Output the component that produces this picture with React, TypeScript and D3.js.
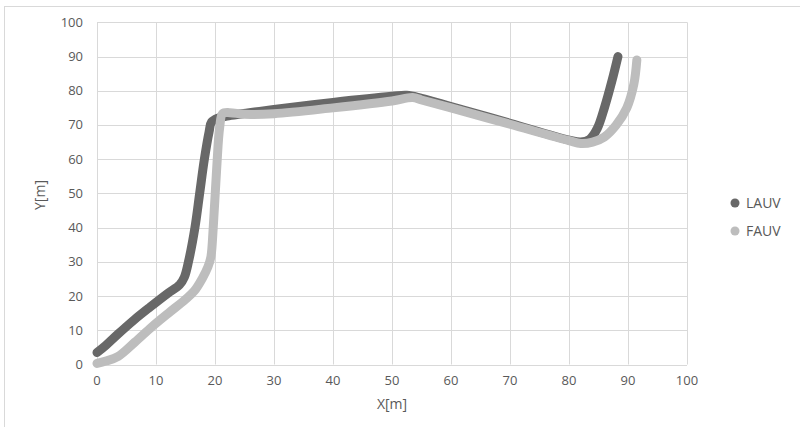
import React from "react";
import * as d3 from "d3";

const xTicks = [0, 10, 20, 30, 40, 50, 60, 70, 80, 90, 100];
const yTicks = [0, 10, 20, 30, 40, 50, 60, 70, 80, 90, 100];

const lauvX = [0, 1.5, 3.5, 6.4, 9, 12, 14, 14.8, 15.5, 16.6, 17.4, 18.2, 19, 19.4, 20.5, 22, 30, 40, 50, 52.5, 55, 60, 70, 80, 82, 83.5, 84.8, 86, 87.3, 88.3];
const lauvY = [3.5, 5.6, 8.8, 13.2, 16.8, 20.8, 23.3, 25.5, 30, 40, 50, 60, 68, 70.8, 72, 72.6, 74.5, 76.6, 78.4, 78.7, 77.8, 75.4, 70.5, 65.6, 65, 65.8, 69, 75, 83, 90];

const fauvX = [0, 1.5, 3.6, 6.4, 9.3, 12.1, 14.9, 16.5, 17.8, 18.8, 19.3, 19.7, 20.3, 20.8, 21.3, 22.5, 25, 30, 40, 50, 53.5, 55, 60, 70, 80, 82, 84, 86, 88, 89.8, 91, 91.5];
const fauvY = [0.3, 1, 2.4, 6.5, 11, 15, 18.9, 21.5, 25, 28.5, 31.4, 40, 57.7, 69.4, 73.3, 73.6, 73.1, 73.3, 75, 77, 78, 77.3, 75, 70.2, 65.4, 64.6, 65, 66.5, 70, 75, 82, 89];

const seriesNames = ["LAUV", "FAUV"];
const seriesColors = ["#686868", "#bdbdbd"];

export default function App() {
  const x = d3.scaleLinear().domain([0, 100]).range([97, 687]);
  const y = d3.scaleLinear().domain([0, 100]).range([364.5, 22.3]);
  const line = d3
    .line<[number, number]>()
    .x((d) => x(d[0]))
    .y((d) => y(d[1]))
    .curve(d3.curveCatmullRom.alpha(0.5));
  const lauv: [number, number][] = lauvX.map((v, i) => [v, lauvY[i]]);
  const fauv: [number, number][] = fauvX.map((v, i) => [v, fauvY[i]]);
  const font = "'Open Sans', 'Liberation Sans', sans-serif";
  const textColor = "#595959";
  return (
    <svg
      width={800}
      height={427}
      style={{ position: "absolute", left: 0, top: 0, background: "#fff" }}
      fontFamily={font}
    >
      <rect x={0} y={0} width={800} height={427} fill="#fff" />
      <rect x={4.5} y={6.5} width={820} height={440} fill="none" stroke="#d9d9d9" strokeWidth={1} />
      {xTicks.map((t) => (
        <line key={"gx" + t} x1={Math.round(x(t)) + 0.5} x2={Math.round(x(t)) + 0.5} y1={y(100)} y2={y(0)} stroke="#d9d9d9" strokeWidth={1} />
      ))}
      {yTicks.map((t) => (
        <line key={"gy" + t} x1={x(0)} x2={x(100)} y1={Math.round(y(t)) + 0.5} y2={Math.round(y(t)) + 0.5} stroke="#d9d9d9" strokeWidth={1} />
      ))}
      {xTicks.map((t) => (
        <text key={"tx" + t} x={x(t)} y={385} textAnchor="middle" fontSize={13} fill={textColor}>
          {t}
        </text>
      ))}
      {yTicks.map((t) => (
        <text key={"ty" + t} x={83} y={y(t) + 4.5} textAnchor="end" fontSize={13} fill={textColor}>
          {t}
        </text>
      ))}
      <text x={392} y={409} textAnchor="middle" fontSize={14} fill={textColor}>
        X[m]
      </text>
      <text transform="translate(45,195) rotate(-90)" textAnchor="middle" fontSize={14} fill={textColor}>
        Y[m]
      </text>
      <path d={line(lauv) || ""} fill="none" stroke={seriesColors[0]} strokeWidth={9} strokeLinecap="round" strokeLinejoin="round" />
      <path d={line(fauv) || ""} fill="none" stroke={seriesColors[1]} strokeWidth={9} strokeLinecap="round" strokeLinejoin="round" />
      {seriesNames.map((n, i) => (
        <g key={n}>
          <circle cx={735} cy={203 + i * 28} r={4.5} fill={seriesColors[i]} />
          <text x={746} y={208 + i * 28} fontSize={14} fill={textColor}>
            {n}
          </text>
        </g>
      ))}
    </svg>
  );
}
